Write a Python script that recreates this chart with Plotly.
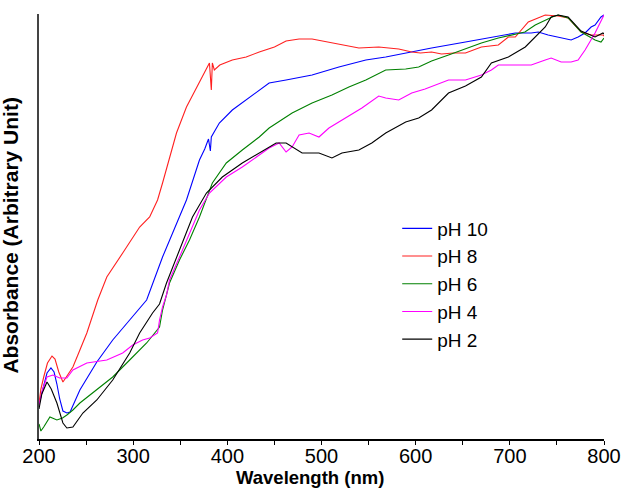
import plotly.graph_objects as go

# Wavelength (nm) and absorbance (arbitrary units)
wl_ph10 = [200, 204, 208.5, 212.7, 216, 219, 222, 225.4, 229.6, 233, 236, 243.4, 261.4, 278.3, 296.3, 314.3,
           331.2, 341.8, 356.6, 370.4, 376, 380, 382, 383, 391.5, 405.3, 433.9, 444.4, 462.4, 490, 518.5,
           547.1, 568.2, 589.4, 603.2, 616.9, 652.9, 687.8, 705.8, 722.7, 730.2, 740.7, 751.3, 765.1,
           772.5, 779.9, 786.3, 790.5, 796.8, 800]
ab_ph10 = [35, 50, 66, 71, 67, 55, 40, 28, 26, 27, 33, 49, 77, 99, 119, 139,
           182, 206, 239, 279, 290, 300, 288, 302, 316, 329, 349, 356, 359, 364, 372,
           379, 382, 386, 388, 391, 397, 403, 406, 406, 407, 404, 402, 399,
           402, 406, 412, 414, 422, 424]

wl_ph8 = [200, 202, 205, 209, 213.8, 217, 221, 225.4, 229, 236, 243, 250.8, 262.4, 272, 288.9, 306.9,
          317.5, 325.9, 331.2, 346, 356.6, 370.4, 378, 381, 383, 384.1, 386.2, 392, 405.3, 420, 433.9,
          450, 462.4, 476.2, 490, 511.1, 525.9, 539.7, 560.8, 582, 595.8, 605, 616.9, 627.5, 640,
          652.9, 669.8, 687.8, 698.4, 705.8, 719.6, 730, 737.6, 751.3, 761.9, 775.7, 786.3, 798.9, 800]
ab_ph8 = [35, 50, 62, 76, 83, 80, 67, 57, 62, 72, 88, 106, 139, 162, 186, 212,
          222, 239, 256, 306, 332, 356, 370, 376, 349, 376, 369, 374, 379, 382, 387,
          392, 398, 400, 400, 396, 393, 391, 392, 390, 387, 386, 387, 385, 386,
          386, 392, 394, 402, 402, 417, 421, 424, 423, 421, 407, 404, 404, 403]

wl_ph6 = [200, 202, 205, 211.6, 219, 225, 229.6, 236, 243.4, 261.4, 278.3, 296.3, 314.3, 328, 331.2,
          338.6, 349.2, 359.8, 370.4, 384.1, 398.9, 415.9, 433.9, 444.4, 468.8, 490, 511.1, 529.1,
          547.1, 568.2, 589.4, 603.2, 616.9, 634.9, 652.9, 669.8, 687.8, 701.6, 716, 727, 737.6,
          745, 751.3, 761.9, 775.7, 790.5, 796.8, 800]
ab_ph6 = [15, 8, 12, 22, 19, 21, 24, 29, 36, 49, 62, 79, 96, 112, 129,
          156, 179, 199, 222, 256, 276, 289, 302, 311, 326, 336, 344, 352,
          359, 369, 370, 372, 378, 384, 390, 396, 401, 404, 407, 414, 419,
          422, 424, 421, 407, 399, 397, 401]

wl_ph4 = [200, 204, 208.5, 214.8, 222, 229.6, 236, 250.8, 272, 288.9, 299.5, 310, 317.5, 325.9, 328,
          331.2, 335.4, 338.6, 349.2, 359.8, 370.4, 381, 398.9, 415.9, 426.5, 444.4, 455, 462.4, 468.8,
          476.2, 486.8, 497.3, 507.9, 525.9, 542.9, 560.8, 568.2, 582, 595.8, 610, 634.9, 652.9,
          669.8, 680.4, 687.8, 705.8, 722.7, 737.6, 743.9, 754.5, 765.1, 772.5, 779.9, 790.5, 796.8, 800]
ab_ph4 = [34, 50, 62, 64, 61, 61, 69, 76, 79, 86, 94, 99, 101, 106, 119,
          132, 144, 159, 182, 206, 229, 246, 262, 272, 279, 291, 296, 287, 292,
          304, 306, 302, 311, 321, 331, 343, 341, 339, 346, 350, 359, 359,
          364, 369, 374, 374, 374, 379, 381, 377, 377, 379, 389, 406, 419, 424]

wl_ph2 = [200, 203, 208.5, 213, 219, 225.4, 229.6, 236, 246.6, 261.4, 278.3, 296.3, 306.9, 320.6, 328,
          335.4, 349.2, 363, 377.8, 394.7, 415.9, 433.9, 444.4, 451.8, 462.4, 468.8, 479.4, 497.3,
          511.1, 521.7, 539.7, 553.4, 568.2, 589.4, 603.2, 616.9, 634.9, 652.9, 669.8, 680.4, 698.4,
          716.4, 727, 737.6, 743.9, 751.3, 761.9, 775.7, 790.5, 798.9, 800]
ab_ph2 = [30, 45, 57, 50, 36, 16, 11, 12, 26, 39, 59, 86, 106, 126, 135,
          156, 189, 222, 246, 262, 276, 286, 292, 296, 296, 292, 286, 286,
          281, 286, 289, 296, 306, 317, 321, 329, 346, 353, 362, 376, 382,
          392, 402, 412, 422, 424, 422, 408, 402, 406, 405]

series = [
    ("pH 10", wl_ph10, ab_ph10, "#0000FF"),
    ("pH 8", wl_ph8, ab_ph8, "#FF2020"),
    ("pH 6", wl_ph6, ab_ph6, "#008000"),
    ("pH 4", wl_ph4, ab_ph4, "#FF00FF"),
    ("pH 2", wl_ph2, ab_ph2, "#000000"),
]

x_ticks = list(range(200, 801, 50))
x_labels = [str(v) if v % 100 == 0 else "" for v in x_ticks]

fig = go.Figure()
for name, x, y, c in series:
    fig.add_trace(go.Scatter(x=x, y=y, mode="lines", name=name,
                             line=dict(color=c, width=1.1)))

font_family = "Liberation Sans, Arial, sans-serif"
fig.update_layout(
    width=633, height=491,
    margin=dict(l=39, r=27, t=14, b=52),
    paper_bgcolor="white", plot_bgcolor="white",
    font=dict(family=font_family, color="black"),
    showlegend=True,
    legend=dict(x=0.634, y=0.54, xanchor="left", yanchor="top",
                font=dict(size=19, family=font_family, color="black"),
                bgcolor="rgba(0,0,0,0)", tracegroupgap=0),
    xaxis=dict(range=[200, 800], tickvals=x_ticks, ticktext=x_labels,
               ticks="outside", ticklen=4, tickwidth=1, tickcolor="black",
               ticklabelstandoff=-6,
               showline=True, linecolor="black", linewidth=1.5,
               showgrid=False, zeroline=False,
               tickfont=dict(size=20, family=font_family, color="black")),
    yaxis=dict(range=[0, 425], showticklabels=False, ticks="",
               showline=True, linecolor="#444444", linewidth=2,
               showgrid=False, zeroline=False),
    annotations=[
        dict(text="<b>Wavelength (nm)</b>", xref="paper", yref="paper",
             x=0.48, y=-0.091, xanchor="center", yanchor="middle", showarrow=False,
             font=dict(size=18.5, family=font_family, color="black")),
        dict(text="<b>Absorbance (Arbitrary Unit)</b>", xref="paper", yref="paper",
             x=-0.051, y=0.479, xanchor="center", yanchor="middle", showarrow=False,
             textangle=-90,
             font=dict(size=21, family=font_family, color="black")),
    ],
)

fig.write_html("out.html")
